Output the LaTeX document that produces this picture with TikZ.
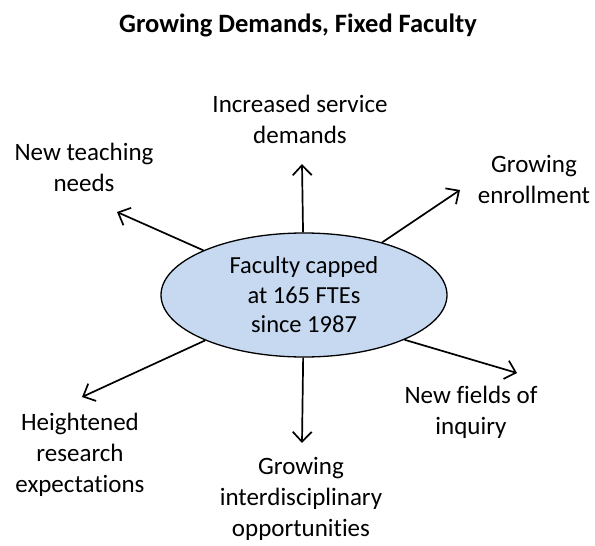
\documentclass[tikz,border=0pt]{standalone}
\usepackage{fontspec}
\setmainfont{Carlito}[Ligatures={NoCommon}]
\usetikzlibrary{arrows.meta,shapes.geometric}
\definecolor{ellfill}{HTML}{C6D9F1}
\begin{document}
\begin{tikzpicture}[x=1pt,y=-1pt,
  lbl/.style={align=center,font=\fontsize{25}{31}\selectfont,inner sep=0pt},
  conn/.style={line width=1.7pt,-{Straight Barb[length=10pt,width=19pt,line width=1.7pt]}}]
\useasboundingbox (0,0) rectangle (595,546);
\node[font=\fontsize{26.5}{30}\bfseries\selectfont] (title) at (298,25) {Growing Demands, Fixed Faculty};
\node[ellipse,draw,line width=1.3pt,fill=ellfill,minimum width=286pt,minimum height=124pt,inner sep=0pt,align=center,font=\fontsize{24.5}{29.5}\selectfont] (core) at (304,295) {Faculty capped\\at 165 FTEs\\since 1987};
\node[lbl] (serv) at (300,119) {Increased service\\demands};
\node[lbl] (teach) at (84,167) {New teaching\\needs};
\node[lbl] (enrol) at (534,179) {Growing\\enrollment};
\node[lbl] (res) at (80,455) {Heightened\\research\\expectations};
\node[lbl] (inter) at (301,499) {Growing\\interdisciplinary\\opportunities};
\node[lbl] (fields) at (471,412) {New fields of\\inquiry};
\coordinate (tServ) at (302,164);
\coordinate (tTeach) at (117,212);
\coordinate (tEnrol) at (460,190);
\coordinate (tRes) at (82,397);
\coordinate (tInter) at (302,443);
\coordinate (tFields) at (517,373);
\draw[conn] (core) -- (tServ);
\draw[conn] (core) -- (tTeach);
\draw[conn] (core) -- (tEnrol);
\draw[conn] (core) -- (tRes);
\draw[conn] (core) -- (tInter);
\draw[conn] (core.-24) -- (tFields);
\end{tikzpicture}
\end{document}
